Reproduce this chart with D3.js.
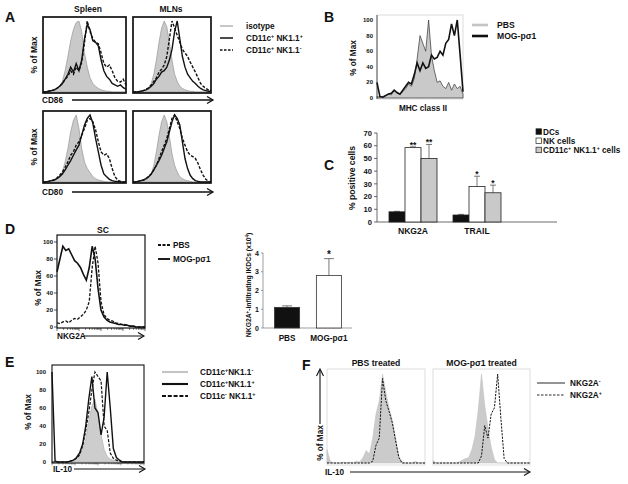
<!DOCTYPE html>
<html>
<head>
<meta charset="utf-8">
<script src="https://cdn.jsdelivr.net/npm/d3@7"></script>
<style>
  body { margin: 0; background: #fff; }
  text { font-family: "Liberation Sans", Arial, sans-serif; font-weight: bold; fill: #111; }
</style>
</head>
<body>
<div id="fig"></div>
<script>
var bins = d3.range(31).map(function(i) { return i / 30; });

// A - CD86 / CD80 (% of max)
var spleenCD86Iso  = [0,0,1,1,2,4,8,15,30,50,72,88,98,100,85,55,35,20,12,8,5,3,2,1,1,0,0,0,0,0,0];
var spleenCD86Pos  = [0,0,1,2,3,5,8,12,18,25,35,28,40,30,45,75,95,88,72,70,65,45,30,22,18,12,10,8,10,6,4];
var spleenCD86Neg  = [0,0,1,2,3,5,8,12,18,22,30,25,35,30,42,70,100,85,75,70,68,55,40,35,38,30,20,15,14,18,10];
var mlnCD86Iso     = [0,0,1,1,2,3,6,12,25,45,70,90,100,92,70,45,25,15,8,5,3,2,1,1,0,0,0,0,0,0,0];
var mlnCD86Pos     = [0,0,0,1,2,3,5,8,12,18,22,28,30,35,45,60,85,100,75,50,35,25,20,15,12,8,5,3,2,1,1];
var mlnCD86Neg     = [0,0,0,1,2,4,6,10,15,20,28,32,38,50,75,100,90,80,70,60,55,50,42,35,28,20,12,8,5,3,2];
var spleenCD80Iso  = [0,0,1,1,2,4,8,15,30,50,75,92,100,80,50,30,20,14,8,5,3,2,1,0,0,0,0,0,0,0,0];
var spleenCD80Pos  = [0,0,1,2,3,5,8,12,18,25,32,40,48,55,70,85,95,100,88,65,45,25,12,8,4,2,1,1,0,0,0];
var spleenCD80Neg  = [0,0,1,2,3,6,10,15,22,30,40,45,55,60,70,80,92,95,90,78,60,45,40,42,35,20,8,3,1,0,0];
var mlnCD80Iso     = [0,0,1,1,2,3,6,12,25,45,70,90,100,90,68,42,25,15,8,5,3,2,1,0,0,0,0,0,0,0,0];
var mlnCD80Pos     = [0,0,1,2,3,5,8,12,18,25,32,40,50,60,75,90,100,95,85,60,35,20,10,5,2,1,0,0,0,0,0];
var mlnCD80Neg     = [0,0,1,2,3,5,8,12,18,25,35,45,55,65,80,95,100,90,80,65,55,45,40,38,35,28,18,10,4,1,0];

// B - MHC class II
var mhcPBS = [2,1,2,3,5,4,10,6,5,8,12,18,15,25,50,80,70,60,100,55,35,20,22,15,12,20,10,18,12,15,5];
var mhcMOG = [20,2,1,3,5,6,10,7,5,10,15,20,18,30,45,35,45,38,40,55,50,52,60,55,70,75,95,80,100,55,8];
var mhcTicks = [0, 20, 40, 60, 80, 100];

// C - % positive cells
var markers = ["NKG2A", "TRAIL"];
var cellTypes = ["DCs", "NK cells", "CD11c{+} NK1.1{+} cells"];
var pctMean = [[8, 58.5, 50], [5.5, 28, 23]];
var pctErr  = [[0.4, 0.6, 11], [0.5, 8, 6]];
var pctStars = [["", "**", "**"], ["", "*", "*"]];
var pctTicks = [0, 10, 20, 30, 40, 50, 60, 70];

// D - NKG2A in spinal cord, and counts
var scNKG2APBS = [5,4,6,7,5,8,10,9,12,15,20,30,70,95,75,30,15,10,8,7,5,4,3,3,2,1,1,0,0,0,0];
var scNKG2AMOG = [65,80,95,90,92,85,78,75,70,62,55,70,95,80,45,20,12,8,6,5,4,3,3,2,2,1,1,0,0,0,0];
var treatments = ["PBS", "MOG-p\u03c31"];
var ikdcMean = [1.1, 2.8];
var ikdcErr = [0.08, 0.9];
var ikdcTicks = [0, 1, 2, 3, 4];

// E - IL-10 by subset
var il10Neg  = [0,0,0,0,0,0,1,2,4,8,14,25,45,62,70,52,30,14,6,3,2,1,0,0,0,0,0,0,0,0,0];
var il10Pos  = [100,1,0,0,0,0,1,2,5,10,20,40,70,95,60,55,30,50,100,60,15,5,2,0,0,0,0,0,0,0,0];
var il10NK   = [0,0,0,0,0,0,1,2,4,8,18,35,55,80,100,95,90,40,35,10,4,2,1,0,0,0,0,0,0,0,0];
var pctMaxTicks = [0, 20, 40, 60, 80, 100];

// F - IL-10 in NKG2A- / NKG2A+ cells
var pbsNKG2Aneg = [15,2,0,0,0,1,0,1,0,2,1,6,14,10,28,55,70,100,80,62,48,28,8,1,0,0,0,2,0,0,0];
var pbsNKG2Apos = [0,0,0,0,0,0,0,0,0,0,0,0,0,0,2,20,28,95,70,58,45,25,6,0,0,0,0,0,0,0,0];
var mogNKG2Aneg = [3,0,0,0,0,0,0,0,1,3,5,6,15,30,60,100,65,40,18,4,0,0,0,0,0,0,0,0,0,0,0];
var mogNKG2Apos = [0,0,0,0,0,0,0,0,0,0,0,0,0,0,0,8,42,28,55,62,100,50,5,0,0,0,0,0,0,0,0];


var svg = d3.select("#fig").append("svg")
    .attr("width", 628)
    .attr("height", 484);

var grayFill = "#c9c9c9";
var fs = 8.2;   // usual label size

// text with {sup} parts as superscripts
function richText(g, x, y, str, size, anchor, rotate) {
    var t = g.append("text")
        .attr("x", x)
        .attr("y", y)
        .attr("font-size", size)
        .attr("text-anchor", anchor || "start");
    if (rotate) t.attr("transform", "rotate(-90," + x + "," + y + ")");
    var up = false;
    str.split(/(\{[^}]*\})/).forEach(function(p) {
        if (!p) return;
        if (p[0] == "{") {
            t.append("tspan").text(p.slice(1, -1))
                .attr("font-size", size * 0.65)
                .attr("dy", -size * 0.35);
            up = true;
        } else {
            var s = t.append("tspan").text(p);
            if (up) s.attr("dy", size * 0.35);
            up = false;
        }
    });
    return t;
}

function arrow(x1, x2, y, w) {
    svg.append("line")
        .attr("x1", x1).attr("x2", x2 - 1).attr("y1", y).attr("y2", y)
        .attr("stroke", "#111").attr("stroke-width", w || 1.3);
    svg.append("polyline")
        .attr("points", (x2 - 6) + "," + (y - 3.5) + " " + x2 + "," + y + " " + (x2 - 6) + "," + (y + 3.5))
        .attr("fill", "none").attr("stroke", "#111").attr("stroke-width", w || 1.3);
}

function histScales(box) {
    return {
        x: d3.scaleLinear().domain([0, 1]).range([box.x0, box.x1]),
        y: d3.scaleLinear().domain([0, 100]).range([box.y0, box.y100])
    };
}

// one histogram series: filled gray or a line
function drawSeries(g, sc, vals, style) {
    var pts = vals.map(function(v, i) { return [bins[i], v]; });
    if (style.fill) {
        g.append("path").datum(pts)
            .attr("d", d3.area().x(d => sc.x(d[0])).y0(sc.y(0)).y1(d => sc.y(d[1])))
            .attr("fill", style.fill)
            .attr("stroke", style.stroke || "none")
            .attr("stroke-width", style.width || 0.6);
    } else {
        g.append("path").datum(pts)
            .attr("d", d3.line().x(d => sc.x(d[0])).y(d => sc.y(d[1])))
            .attr("fill", "none")
            .attr("stroke", style.stroke || "#111")
            .attr("stroke-width", style.width || 1.3)
            .attr("stroke-dasharray", style.dash || null);
    }
}

function frame(box, color, w) {
    svg.append("rect")
        .attr("x", box.x0).attr("y", box.top)
        .attr("width", box.x1 - box.x0).attr("height", box.bottom - box.top)
        .attr("fill", "none").attr("stroke", color).attr("stroke-width", w);
}

function letter(s, x, y) {
    svg.append("text").attr("x", x).attr("y", y).attr("font-size", 14).text(s);
}

var isoStyle = {fill: grayFill, stroke: "#8a8a8a", width: 0.6};
var solidStyle = {stroke: "#111", width: 1.4};
var dashStyle = {stroke: "#111", width: 1.4, dash: "3,1.6"};

/* ---------- A ---------- */
letter("A", 5, 22);
var aBoxes = [
    {x0: 43, x1: 126, top: 17, bottom: 93, y0: 92, y100: 21, data: [spleenCD86Iso, spleenCD86Pos, spleenCD86Neg]},
    {x0: 133, x1: 211, top: 17, bottom: 93, y0: 92, y100: 21, data: [mlnCD86Iso, mlnCD86Pos, mlnCD86Neg]},
    {x0: 43, x1: 126, top: 111, bottom: 183, y0: 182, y100: 115, data: [spleenCD80Iso, spleenCD80Pos, spleenCD80Neg]},
    {x0: 133, x1: 211, top: 111, bottom: 183, y0: 182, y100: 115, data: [mlnCD80Iso, mlnCD80Pos, mlnCD80Neg]}
];
aBoxes.forEach(function(b) {
    var sc = histScales(b);
    var g = svg.append("g");
    drawSeries(g, sc, b.data[0], isoStyle);
    drawSeries(g, sc, b.data[2], dashStyle);
    drawSeries(g, sc, b.data[1], solidStyle);
    frame(b, "#111", 1.7);
});
svg.append("text").attr("x", 88).attr("y", 12).attr("font-size", fs + 0.3).attr("text-anchor", "middle").text("Spleen");
svg.append("text").attr("x", 171).attr("y", 12).attr("font-size", fs + 0.3).attr("text-anchor", "middle").text("MLNs");
richText(svg, 37, 55, "% of Max", fs + 0.3, "middle", true);
richText(svg, 37, 147, "% of Max", fs + 0.3, "middle", true);
svg.append("text").attr("x", 42).attr("y", 103).attr("font-size", fs).text("CD86");
arrow(72, 213, 100);
svg.append("text").attr("x", 42).attr("y", 195).attr("font-size", fs).text("CD80");
arrow(72, 213, 192);

var aLegend = [
    {label: "isotype", stroke: "#b5b5b5", dash: null},
    {label: "CD11c{+} NK1.1{+}", stroke: "#111", dash: null},
    {label: "CD11c{+} NK1.1{-}", stroke: "#111", dash: "2.5,1.5"}
];
aLegend.forEach(function(d, i) {
    var y = 26 + i * 12;
    svg.append("line").attr("x1", 220).attr("x2", 233).attr("y1", y).attr("y2", y)
        .attr("stroke", d.stroke).attr("stroke-width", 1.5).attr("stroke-dasharray", d.dash);
    richText(svg, 246, y + 3, d.label, fs);
});

/* ---------- B ---------- */
letter("B", 324, 22);
var bBox = {x0: 377, x1: 463, top: 15, bottom: 99, y0: 98, y100: 20};
var bSc = histScales(bBox);
frame(bBox, "#d2d2d2", 0.8);
svg.append("line").attr("x1", 377).attr("x2", 377).attr("y1", 15).attr("y2", 99)
    .attr("stroke", "#444").attr("stroke-width", 0.9);
drawSeries(svg, bSc, mhcPBS, {fill: grayFill, stroke: "#333", width: 0.7});
drawSeries(svg, bSc, mhcMOG, {stroke: "#111", width: 1.6});
mhcTicks.forEach(function(t) {
    svg.append("text").attr("x", 373).attr("y", bSc.y(t) + 2).attr("font-size", 6)
        .attr("text-anchor", "end").text(t);
});
richText(svg, 356, 58, "% of Max", fs, "middle", true);
svg.append("text").attr("x", 423).attr("y", 111).attr("font-size", fs).attr("text-anchor", "middle").text("MHC class II");
svg.append("line").attr("x1", 472).attr("x2", 488).attr("y1", 25).attr("y2", 25)
    .attr("stroke", "#c4c4c4").attr("stroke-width", 2.6);
svg.append("text").attr("x", 497).attr("y", 28).attr("font-size", 8.6).text("PBS");
svg.append("line").attr("x1", 472).attr("x2", 488).attr("y1", 36).attr("y2", 36)
    .attr("stroke", "#111").attr("stroke-width", 2.6);
svg.append("text").attr("x", 497).attr("y", 39).attr("font-size", 8.6).text("MOG-p\u03c31");

/* ---------- C ---------- */
letter("C", 324, 170);
var cY = d3.scaleLinear().domain([0, 70]).range([222, 133]);
var cX = d3.scaleBand().domain(markers).range([381, 509]).paddingInner(0.25).paddingOuter(0.125);
var cSub = d3.scaleBand().domain(d3.range(3)).range([0, cX.bandwidth()]);
var cFill = ["#111", "#fff", grayFill];
var gC = svg.append("g");
gC.append("line").attr("x1", 377).attr("x2", 557).attr("y1", 222).attr("y2", 222)
    .attr("stroke", "#444").attr("stroke-width", 0.8);
gC.append("line").attr("x1", 377).attr("x2", 377).attr("y1", 133).attr("y2", 222)
    .attr("stroke", "#444").attr("stroke-width", 0.8);
pctTicks.forEach(function(t) {
    gC.append("line").attr("x1", 374).attr("x2", 377).attr("y1", cY(t)).attr("y2", cY(t))
        .attr("stroke", "#444").attr("stroke-width", 0.8);
    gC.append("text").attr("x", 372).attr("y", cY(t) + 2.7).attr("font-size", 7.6)
        .attr("text-anchor", "end").text(t);
});
markers.forEach(function(m, mi) {
    pctMean[mi].forEach(function(v, si) {
        var x = cX(m) + cSub(si);
        var w = cSub.bandwidth();
        var top = cY(v + pctErr[mi][si]);
        gC.append("line").attr("x1", x + w / 2).attr("x2", x + w / 2)
            .attr("y1", cY(v)).attr("y2", top).attr("stroke", "#555").attr("stroke-width", 0.8);
        gC.append("line").attr("x1", x + w / 2 - 3).attr("x2", x + w / 2 + 3)
            .attr("y1", top).attr("y2", top).attr("stroke", "#555").attr("stroke-width", 0.8);
        gC.append("rect").attr("x", x).attr("y", cY(v)).attr("width", w).attr("height", cY(0) - cY(v))
            .attr("fill", cFill[si]).attr("stroke", "#222").attr("stroke-width", 0.8);
        if (pctStars[mi][si]) {
            gC.append("text").attr("x", x + w / 2).attr("y", top + 1).attr("font-size", 8.5)
                .attr("text-anchor", "middle").text(pctStars[mi][si]);
        }
    });
    gC.append("text").attr("x", cX(m) + cX.bandwidth() / 2).attr("y", 234).attr("font-size", 8.6)
        .attr("text-anchor", "middle").text(m);
});
richText(svg, 355, 178, "% positive cells", 8.6, "middle", true);
cellTypes.forEach(function(c, i) {
    var y = 132 + i * 9.2;
    svg.append("rect").attr("x", 536).attr("y", y - 3.2).attr("width", 5.5).attr("height", 5.5)
        .attr("fill", cFill[i]).attr("stroke", "#222").attr("stroke-width", 0.7);
    richText(svg, 543, y + 2.7, c, 8.2);
});

/* ---------- D ---------- */
letter("D", 5, 234);
var dBox = {x0: 57, x1: 145, top: 235, bottom: 328, y0: 327, y100: 242};
var dSc = histScales(dBox);
var logAxis = d3.scaleLog().domain([1, 1e4]).range([57, 145]);
logAxis.ticks().forEach(function(t) {
    var big = Math.abs(Math.log10(t) % 1) < 1e-9;
    svg.append("line").attr("x1", logAxis(t)).attr("x2", logAxis(t))
        .attr("y1", 328).attr("y2", 328 + (big ? 3 : 1.8)).attr("stroke", "#111").attr("stroke-width", 0.6);
});
drawSeries(svg, dSc, scNKG2APBS, {stroke: "#111", width: 1.3, dash: "3,1.6"});
drawSeries(svg, dSc, scNKG2AMOG, {stroke: "#111", width: 1.6});
frame(dBox, "#111", 1.2);
pctMaxTicks.forEach(function(t) {
    svg.append("line").attr("x1", 54).attr("x2", 57).attr("y1", dSc.y(t)).attr("y2", dSc.y(t))
        .attr("stroke", "#111").attr("stroke-width", 0.7);
    svg.append("text").attr("x", 53).attr("y", dSc.y(t) + 2).attr("font-size", 6)
        .attr("text-anchor", "end").text(t);
});
svg.append("text").attr("x", 103).attr("y", 233).attr("font-size", fs + 0.4).attr("text-anchor", "middle").text("SC");
richText(svg, 41, 288, "% of Max", fs, "middle", true);
svg.append("text").attr("x", 57).attr("y", 339).attr("font-size", fs).text("NKG2A");
arrow(84, 144, 336, 1.1);
svg.append("line").attr("x1", 158).attr("x2", 170).attr("y1", 245).attr("y2", 245)
    .attr("stroke", "#111").attr("stroke-width", 1.9).attr("stroke-dasharray", "3,1.5");
svg.append("text").attr("x", 173).attr("y", 248).attr("font-size", fs).text("PBS");
svg.append("line").attr("x1", 158).attr("x2", 170).attr("y1", 259).attr("y2", 259)
    .attr("stroke", "#111").attr("stroke-width", 1.9);
svg.append("text").attr("x", 173).attr("y", 262).attr("font-size", fs).text("MOG-p\u03c31");

// D right - counts
var dY = d3.scaleLinear().domain([0, 4]).range([328, 253]);
var dX = d3.scaleBand().domain(treatments).range([264, 352]).paddingInner(0.4).paddingOuter(0.25);
var gD = svg.append("g");
gD.append("line").attr("x1", 263).attr("x2", 352).attr("y1", 328).attr("y2", 328)
    .attr("stroke", "#777").attr("stroke-width", 0.7);
gD.append("line").attr("x1", 263).attr("x2", 263).attr("y1", 253).attr("y2", 328)
    .attr("stroke", "#777").attr("stroke-width", 0.7);
ikdcTicks.forEach(function(t) {
    gD.append("line").attr("x1", 261).attr("x2", 263).attr("y1", dY(t)).attr("y2", dY(t))
        .attr("stroke", "#777").attr("stroke-width", 0.7);
    gD.append("text").attr("x", 259).attr("y", dY(t) + 2.5).attr("font-size", 7)
        .attr("text-anchor", "end").text(t);
});
treatments.forEach(function(t, i) {
    var x = dX(t), w = dX.bandwidth();
    var top = dY(ikdcMean[i] + ikdcErr[i]);
    gD.append("line").attr("x1", x + w / 2).attr("x2", x + w / 2)
        .attr("y1", dY(ikdcMean[i])).attr("y2", top).attr("stroke", "#555").attr("stroke-width", 0.8);
    gD.append("line").attr("x1", x + w / 2 - 5).attr("x2", x + w / 2 + 5)
        .attr("y1", top).attr("y2", top).attr("stroke", "#555").attr("stroke-width", 0.8);
    gD.append("rect").attr("x", x).attr("y", dY(ikdcMean[i])).attr("width", w)
        .attr("height", dY(0) - dY(ikdcMean[i]))
        .attr("fill", i == 0 ? "#111" : "#fff").attr("stroke", "#333").attr("stroke-width", 0.8);
    gD.append("text").attr("x", x + w / 2).attr("y", 341).attr("font-size", fs)
        .attr("text-anchor", "middle").text(t);
});
gD.append("text").attr("x", dX(treatments[1]) + dX.bandwidth() / 2).attr("y", dY(ikdcMean[1] + ikdcErr[1]) - 1)
    .attr("font-size", 10).attr("text-anchor", "middle").text("*");
richText(svg, 251, 285, "NKG2A{+}-infiltrating IKDCs  (x10{4})", 6.8, "middle", true);

/* ---------- E ---------- */
letter("E", 5, 367);
var eBox = {x0: 52, x1: 144, top: 365, bottom: 463, y0: 462, y100: 372};
var eSc = histScales(eBox);
logAxis.range([52, 144]).ticks().forEach(function(t) {
    var big = Math.abs(Math.log10(t) % 1) < 1e-9;
    svg.append("line").attr("x1", logAxis(t)).attr("x2", logAxis(t))
        .attr("y1", 463).attr("y2", 463 + (big ? 2.5 : 1.5)).attr("stroke", "#444").attr("stroke-width", 0.5);
});
drawSeries(svg, eSc, il10Neg, {fill: "#cdcdcd", stroke: "#b5b5b5", width: 0.8});
drawSeries(svg, eSc, il10NK, {stroke: "#111", width: 1.2, dash: "3,1.5"});
drawSeries(svg, eSc, il10Pos, {stroke: "#111", width: 1.4});
frame(eBox, "#111", 1.1);
pctMaxTicks.forEach(function(t) {
    svg.append("text").attr("x", 46).attr("y", eSc.y(t) + 2).attr("font-size", 6)
        .attr("text-anchor", "end").text(t);
});
richText(svg, 31, 412, "% of Max", fs, "middle", true);
svg.append("text").attr("x", 53).attr("y", 472).attr("font-size", fs).text("IL-10");
arrow(74, 145, 469, 1.1);
var eLegend = [
    {label: "CD11c{+}NK1.1{-}", stroke: "#c4c4c4", dash: null},
    {label: "CD11c{+}NK1.1{+}", stroke: "#111", dash: null},
    {label: "CD11c{-} NK1.1{+}", stroke: "#111", dash: "4,1.8"}
];
eLegend.forEach(function(d, i) {
    var y = 372 + i * 12;
    svg.append("line").attr("x1", 162).attr("x2", 188).attr("y1", y).attr("y2", y)
        .attr("stroke", d.stroke).attr("stroke-width", 2.1).attr("stroke-dasharray", d.dash);
    richText(svg, 200, y + 3, d.label, fs);
});

/* ---------- F ---------- */
letter("F", 302, 370);
var fBoxes = [
    {x0: 327, x1: 425, top: 369, bottom: 465, y0: 463, y100: 374, title: "PBS treated", data: [pbsNKG2Aneg, pbsNKG2Apos]},
    {x0: 433, x1: 530, top: 369, bottom: 465, y0: 463, y100: 374, title: "MOG-p\u03c31 treated", data: [mogNKG2Aneg, mogNKG2Apos]}
];
fBoxes.forEach(function(b) {
    var sc = histScales(b);
    frame(b, "#d4d4d4", 0.8);
    drawSeries(svg, sc, b.data[0], {fill: "#cbcbcb", stroke: "#bdbdbd", width: 0.5});
    drawSeries(svg, sc, b.data[1], {stroke: "#111", width: 1, dash: "2.2,1.2"});
    svg.append("text").attr("x", (b.x0 + b.x1) / 2).attr("y", 366).attr("font-size", fs + 0.4)
        .attr("text-anchor", "middle").text(b.title);
});
// vertical axis arrow
svg.append("line").attr("x1", 320).attr("x2", 320).attr("y1", 424).attr("y2", 370)
    .attr("stroke", "#111").attr("stroke-width", 1.1);
svg.append("polyline").attr("points", "316.5,376 320,369 323.5,376")
    .attr("fill", "none").attr("stroke", "#111").attr("stroke-width", 1.1);
richText(svg, 323, 443, "% of Max", fs, "middle", true);
svg.append("text").attr("x", 325).attr("y", 475).attr("font-size", fs).text("IL-10");
arrow(350, 530, 472, 1.1);
svg.append("line").attr("x1", 537).attr("x2", 565).attr("y1", 383).attr("y2", 383)
    .attr("stroke", "#111").attr("stroke-width", 0.9);
richText(svg, 570, 386, "NKG2A{-}", fs);
svg.append("line").attr("x1", 537).attr("x2", 565).attr("y1", 395).attr("y2", 395)
    .attr("stroke", "#111").attr("stroke-width", 0.9).attr("stroke-dasharray", "2.5,1.5");
richText(svg, 570, 398, "NKG2A{+}", fs);
</script>
</body>
</html>
